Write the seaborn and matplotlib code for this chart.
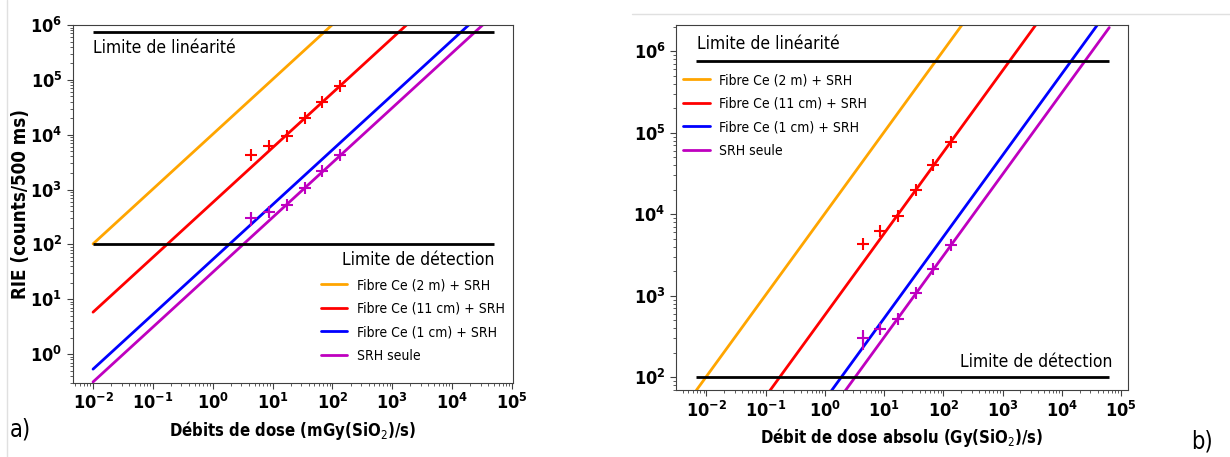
import matplotlib
matplotlib.use("Agg")
import matplotlib.pyplot as plt
from matplotlib import font_manager
from matplotlib.lines import Line2D
import seaborn as sns
import pandas as pd

# --- data -------------------------------------------------------------
series = ["Fibre Ce (2 m) + SRH", "Fibre Ce (11 cm) + SRH",
          "Fibre Ce (1 cm) + SRH", "SRH seule"]
colors = ["orange", "r", "b", "m"]
fit_gain = [1.02e4, 580, 53, 31]          # RIE = gain * debit (pente 1)

dose_rate = [4.4, 8.7, 17.5, 34.5, 68, 135]
rie_11cm = [4300, 6300, 9500, 20000, 40000, 78000]
err_11cm = [250, 400, 500, 900, 1800, 3500]
rie_srh = [300, 390, 520, 1080, 2140, 4250]
err_srh = [85, 60, 25, 50, 100, 200]

lim_detection = 100
lim_linearite = 7.5e5
x_range_a = [1e-2, 5e4]
x_range_b = [6.8e-3, 6.3e4]

# --- style ------------------------------------------------------------
sns.set_style("ticks")
fam = "DejaVu Sans"
cond = font_manager.findfont(font_manager.FontProperties(family=fam, stretch="condensed"))
stretch = "condensed" if "Condensed" in cond else "normal"
plt.rcParams["font.family"] = [fam]
plt.rcParams["font.stretch"] = stretch
plt.rcParams["axes.edgecolor"] = "0.25"
plt.rcParams["xtick.color"] = "0.25"
plt.rcParams["ytick.color"] = "0.25"
plt.rcParams["xtick.labelcolor"] = "k"
plt.rcParams["ytick.labelcolor"] = "k"
plt.rcParams["text.color"] = "k"
plt.rcParams["axes.labelcolor"] = "k"


def fit_frame(x_range):
    rows = []
    for name, g in zip(series, fit_gain):
        for x in x_range:
            rows.append({"x": x, "y": g * x, "serie": name})
    return pd.DataFrame(rows)


def draw_panel(ax, x_range):
    ax.set_xscale("log")
    ax.set_yscale("log")
    sns.lineplot(data=fit_frame(x_range), x="x", y="y", hue="serie",
                 palette=dict(zip(series, colors)), linewidth=2, ax=ax,
                 legend=False, sort=False)
    ax.errorbar(dose_rate, rie_11cm, yerr=err_11cm, fmt="+", color="r",
                ms=9, mew=1.5, elinewidth=1.5, capsize=0)
    ax.errorbar(dose_rate, rie_srh, yerr=err_srh, fmt="+", color="m",
                ms=9, mew=1.5, elinewidth=1.5, capsize=0)
    ax.hlines([lim_linearite, lim_detection], x_range[0], x_range[1],
              color="k", lw=2)
    ax.tick_params(which="major", labelsize=13, length=4)
    ax.tick_params(which="minor", length=2)
    ax.set_xticks([1e-2, 1e-1, 1, 10, 1e2, 1e3, 1e4, 1e5])
    ax.set_ylabel("")


def bold_ticks(ax):
    for lab in ax.get_xticklabels() + ax.get_yticklabels():
        lab.set_fontweight("bold")


fig = plt.figure(figsize=(12.3, 4.57), dpi=100)
handles = [Line2D([], [], color=c, lw=2) for c in colors]
leg_kw = dict(loc="upper left", frameon=False, fontsize=10, borderpad=0,
              borderaxespad=0, handlelength=1.9, handletextpad=0.7,
              labelspacing=0.68)

# panel a
ax1 = fig.add_axes([0.0591, 0.1626, 0.3582, 0.7827])
draw_panel(ax1, x_range_a)
ax1.set_xlim(10 ** -2.34, 10 ** 5.02)
ax1.set_ylim(0.3, 1e6)
ax1.set_yticks([1, 10, 1e2, 1e3, 1e4, 1e5, 1e6])
bold_ticks(ax1)
ax1.set_xlabel("Débits de dose (mGy(SiO$_2$)/s)", fontsize=12, fontweight="bold")
ax1.set_ylabel("RIE (counts/500 ms)", fontsize=13.5, fontweight="bold")
ax1.yaxis.set_label_coords(-0.097, 0.5)
ax1.text(1e-2, 3.8e5, "Limite de linéarité", fontsize=12.5, ha="left", va="center")
ax1.text(5.1e4, 52, "Limite de détection", fontsize=12.5, ha="right", va="center")
ax1.legend(handles, series, bbox_to_anchor=(0.563, 0.292), **leg_kw)

# panel b
ax2 = fig.add_axes([0.5496, 0.1466, 0.3677, 0.7987])
draw_panel(ax2, x_range_b)
ax2.set_xlim(10 ** -2.51, 10 ** 5.12)
ax2.set_ylim(70, 2.1e6)
ax2.set_yticks([1e2, 1e3, 1e4, 1e5, 1e6])
bold_ticks(ax2)
ax2.set_xlabel("Débit de dose absolu (Gy(SiO$_2$)/s)", fontsize=12, fontweight="bold")
ax2.text(7e-3, 1.23e6, "Limite de linéarité", fontsize=12.5, ha="left", va="center")
ax2.text(7e4, 155, "Limite de détection", fontsize=12.5, ha="right", va="center")
ax2.legend(handles, series, bbox_to_anchor=(0.016, 0.868), **leg_kw)

fig.text(0.008, 0.06, "a)", fontsize=17, va="center")
fig.text(0.968, 0.035, "b)", fontsize=17, va="center")

# fines bordures des deux images d'origine
fig.add_artist(Line2D([0.006, 0.006], [0, 1], color="0.88", lw=1))
fig.add_artist(Line2D([0.514, 1], [0.969, 0.969], color="0.88", lw=1))

fig.savefig("out.png", dpi=100)
